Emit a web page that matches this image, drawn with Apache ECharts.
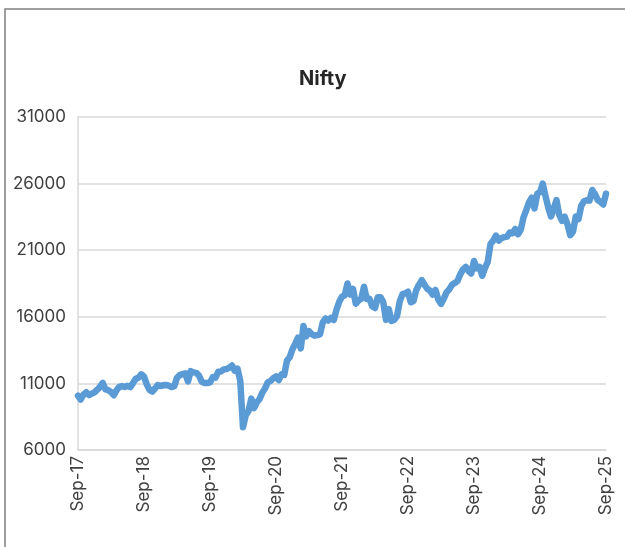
<!DOCTYPE html>
<html>
<head>
<meta charset="utf-8">
<script src="https://cdn.jsdelivr.net/npm/echarts@6/dist/echarts.min.js"></script>
<style>
html,body{margin:0;padding:0;background:#fff;}
#chart{width:625px;height:547px;}
</style>
</head>
<body>
<div id="chart"></div>
<script>
// Nifty, semi-monthly readings (mid-month and month-end), Sep-2017 .. Sep-2025
const values2017 = [10085, 9790, 10170, 10335, 10120, 10225, 10330, 10530];
const values2018 = [10740, 11030, 10545, 10490, 10360, 10115, 10480, 10740, 10800, 10735, 10820, 10715,
                    11020, 11355, 11435, 11680, 11515, 10930, 10510, 10385, 10615, 10875, 10805, 10860];
const values2019 = [10885, 10830, 10725, 10790, 11425, 11625, 11690, 11750, 11155, 11920, 11825, 11790,
                    11590, 11120, 11030, 11025, 11075, 11470, 11430, 11875, 11895, 12055, 12085, 12170];
const values2020 = [12345, 11960, 12110, 11200, 7700, 8600, 8925, 9860, 9135, 9580, 9815, 10300,
                    10620, 11070, 11180, 11390, 11520, 11250, 11680, 11640, 12720, 12970, 13570, 13980];
const values2021 = [14430, 13630, 15310, 14530, 14930, 14690, 14580, 14630, 14680, 15580, 15870, 15720,
                    15920, 15760, 16530, 17130, 17520, 17620, 18500, 17670, 18100, 16980, 17220, 17350];
const values2022 = [18260, 17340, 17350, 16790, 16660, 17460, 17475, 17100, 15780, 16580, 15690, 15780,
                    16050, 17160, 17700, 17760, 17880, 17090, 17185, 18010, 18400, 18760, 18410, 18105];
const values2023 = [17960, 17660, 18015, 17300, 16970, 17360, 17830, 18065, 18400, 18530, 18690, 19190,
                    19565, 19750, 19430, 19255, 20190, 19640, 19750, 19080, 19675, 20130, 21460, 21730];
const values2024 = [22100, 21725, 21910, 21980, 22020, 22330, 22270, 22600, 22200, 22530, 23465, 24010,
                    24590, 24950, 24140, 25235, 25360, 26000, 25060, 24205, 23530, 24130, 24770, 23645];
const values2025 = [23210, 23510, 22930, 22125, 22400, 23520, 23330, 24335, 24670, 24750, 24720, 25520,
                    25200, 24770, 24630, 24430, 25250];

const tickLabels = ['Sep-17', 'Sep-18', 'Sep-19', 'Sep-20', 'Sep-21', 'Sep-22', 'Sep-23', 'Sep-24', 'Sep-25'];
const yTicks = [6000, 11000, 16000, 21000, 26000, 31000];
const title = 'Nifty';

const seriesValues = [].concat(values2017, values2018, values2019, values2020, values2021,
                               values2022, values2023, values2024, values2025);
// category labels: half-month steps starting Sep-2017
const categories = seriesValues.map(function (v, i) {
  const m = 8 + Math.floor(i / 2);           // 0-based month from Jan-2017
  const y = 2017 + Math.floor(m / 12);
  const mm = (m % 12) + 1;
  return y + '-' + (mm < 10 ? '0' : '') + mm + (i % 2 === 0 ? '-15' : '-28');
});
const perYear = 24;

const chart = echarts.init(document.getElementById('chart'), null, {renderer: 'canvas'});
const font = 'Inter, "Open Sans", sans-serif';
chart.setOption({
  animation: false,
  backgroundColor: '#ffffff',
  title: {
    text: title,
    left: 294,
    top: 64,
    textStyle: {fontFamily: font, fontSize: 20, fontWeight: 'bold', color: '#262626'}
  },
  graphic: [{
    type: 'rect',
    shape: {x: 5, y: 9, width: 800, height: 800},
    style: {fill: 'none', stroke: '#808080', lineWidth: 1.5},
    silent: true,
    z: -1
  }],
  grid: {left: 78, right: 19, top: 117, bottom: 97, containLabel: false},
  xAxis: {
    type: 'category',
    data: categories,
    boundaryGap: false,
    axisLine: {show: true, lineStyle: {color: '#d9d9d9', width: 1.5}},
    axisTick: {show: false},
    splitLine: {show: false},
    axisLabel: {
      rotate: 90,
      margin: 6,
      interval: function (index) { return index % perYear === 0; },
      formatter: function (val, index) { return tickLabels[Math.floor(index / perYear)]; },
      fontFamily: font,
      fontSize: 17,
      color: '#404040'
    }
  },
  yAxis: {
    type: 'value',
    min: yTicks[0],
    max: yTicks[yTicks.length - 1],
    interval: yTicks[1] - yTicks[0],
    axisLine: {show: true, lineStyle: {color: '#d9d9d9', width: 1.5}},
    axisTick: {show: false},
    splitLine: {show: true, lineStyle: {color: '#d9d9d9', width: 1.5}},
    axisLabel: {
      margin: 12, fontFamily: font, fontSize: 17, color: '#404040',
      formatter: function (v) { return String(v); }
    }
  },
  series: [{
    type: 'line',
    data: seriesValues,
    showSymbol: false,
    symbol: 'none',
    lineStyle: {color: '#5b9bd5', width: 6.5, cap: 'round', join: 'round'},
    itemStyle: {color: '#5b9bd5'}
  }]
});
</script>
</body>
</html>
